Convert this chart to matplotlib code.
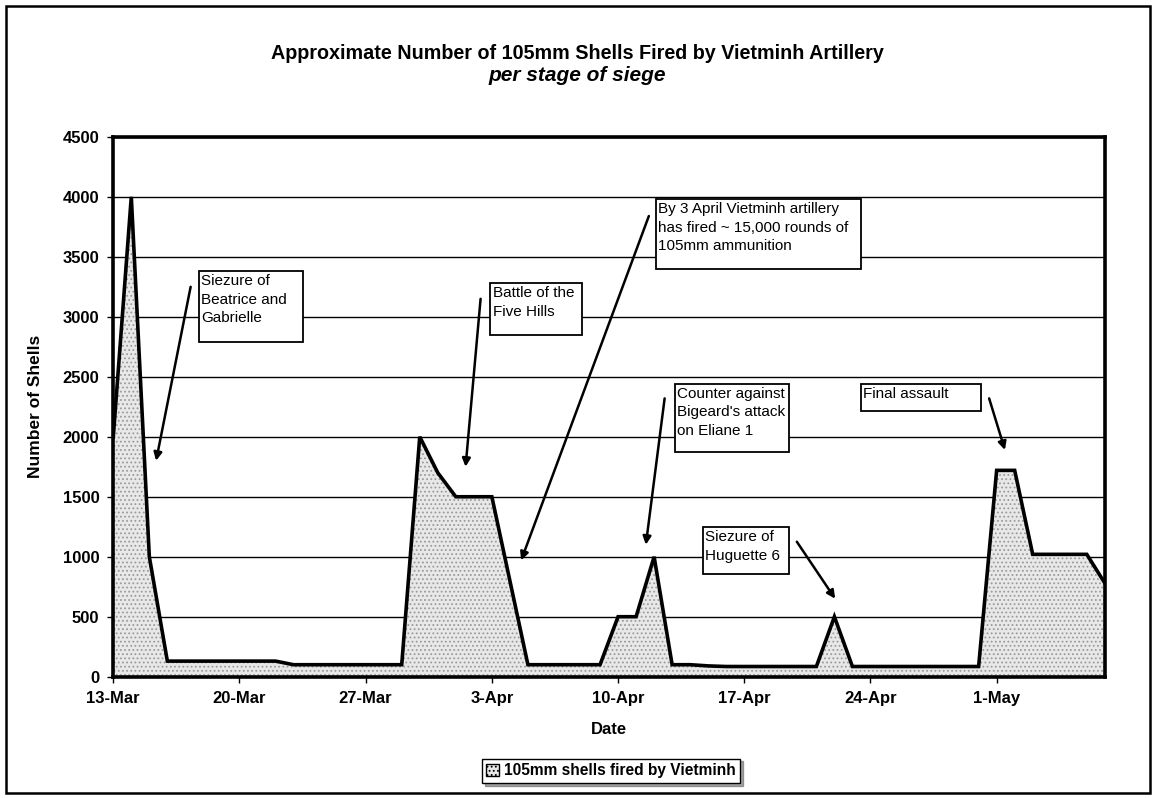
import matplotlib
matplotlib.use("Agg")
import matplotlib.pyplot as plt
import matplotlib.dates as mdates
from matplotlib.patches import Rectangle, Patch
import numpy as np

plt.rcParams["font.family"] = ["Liberation Sans", "DejaVu Sans"]
plt.rcParams["hatch.color"] = "#858585"
plt.rcParams["hatch.linewidth"] = 0.8

# daily values, 13-Mar-1954 .. 7-May-1954
start_date = "1954-03-13"
end_date = "1954-05-08"
shells = [2000, 4000, 1000, 130, 130, 130, 130, 130, 130, 130,
          100, 100, 100, 100, 100, 100, 100,
          2000, 1700, 1500, 1500, 1500, 800, 100, 100, 100, 100, 100,
          500, 500, 1000, 100, 100, 90,
          85, 85, 85, 85, 85, 85, 500, 85, 85, 85, 85, 85, 85, 85, 85,
          1720, 1720, 1020, 1020, 1020, 1020, 780]
tick_dates = ["1954-03-13", "1954-03-20", "1954-03-27", "1954-04-03",
              "1954-04-10", "1954-04-17", "1954-04-24", "1954-05-01"]
tick_labels = ["13-Mar", "20-Mar", "27-Mar", "3-Apr", "10-Apr", "17-Apr", "24-Apr", "1-May"]

# (text, box left date, box top value, box width days, box height, arrow tail, arrow head)
notes = [
    ("Siezure of\nBeatrice and\nGabrielle", "1954-03-17 18:00", 3380, 5.75, 590, ("1954-03-17 07:00", 3250), ("1954-03-15 09:00", 1800)),
    ("Battle of the\nFive Hills", "1954-04-02 22:00", 3280, 5.1, 430, ("1954-04-02 09:00", 3150), ("1954-04-01 13:00", 1750)),
    ("By 3 April Vietminh artillery\nhas fired ~ 15,000 rounds of\n105mm ammunition", "1954-04-12 02:00", 3980, 11.4, 585, ("1954-04-11 17:00", 3840), ("1954-04-04 15:00", 970)),
    ("Counter against\nBigeard's attack\non Eliane 1", "1954-04-13 04:00", 2440, 6.3, 570, ("1954-04-12 14:00", 2320), ("1954-04-11 13:00", 1100)),
    ("Siezure of\nHuguette 6", "1954-04-14 17:00", 1245, 4.8, 385, ("1954-04-19 22:00", 1125), ("1954-04-22 01:00", 650)),
    ("Final assault", "1954-04-23 11:00", 2440, 6.65, 225, ("1954-04-30 14:00", 2320), ("1954-05-01 11:00", 1890)),
]

days = np.arange(np.datetime64(start_date), np.datetime64(end_date)).astype("datetime64[D]").astype(object)
x = mdates.date2num(days)

fig = plt.figure(figsize=(11.57, 7.98), dpi=100)
ax = fig.add_axes([0.0979, 0.152, 0.857, 0.6765])

ax.fill_between(x, 0, shells, facecolor="#e8e8e8", hatch="....", edgecolor="#9a9a9a", linewidth=0, zorder=2)
ax.plot(x, shells, color="black", linewidth=2.6, zorder=3, solid_joinstyle="miter")

ax.set_xlim(x[0], x[-1])
ax.set_ylim(0, 4500)
ax.set_yticks(np.arange(0, 4501, 500))
ax.yaxis.grid(True, color="black", linewidth=1.0, zorder=0)
ax.set_axisbelow(True)
ax.set_xticks(mdates.date2num(np.array(tick_dates, dtype="datetime64[D]").astype(object)))
ax.set_xticklabels(tick_labels)
ax.tick_params(axis="both", labelsize=12, length=4, width=1, direction="out", pad=6)
for lab in ax.get_xticklabels() + ax.get_yticklabels():
    lab.set_fontweight("bold")
for sp in ax.spines.values():
    sp.set_linewidth(2.6)

ax.set_xlabel("Date", fontsize=12, fontweight="bold", labelpad=12)
ax.set_ylabel("Number of Shells", fontsize=12.5, fontweight="bold", labelpad=14)

fig.text(0.499, 0.933, "Approximate Number of 105mm Shells Fired by Vietminh Artillery",
         ha="center", va="center", fontsize=14.2, fontweight="bold")
fig.text(0.499, 0.906, "per stage of siege", ha="center", va="center",
         fontsize=15, fontweight="bold", style="italic")

for text, bx, by, bw, bh, tail, head in notes:
    x0 = mdates.datestr2num(bx)
    ax.add_patch(Rectangle((x0, by - bh), bw, bh, facecolor="white", edgecolor="black",
                           linewidth=1.3, zorder=4))
    ax.text(x0 + 0.12, by - 25, text, ha="left", va="top", fontsize=11, linespacing=1.4, zorder=5)
    ax.annotate("", xy=(mdates.datestr2num(head[0]), head[1]),
                xytext=(mdates.datestr2num(tail[0]), tail[1]),
                arrowprops=dict(arrowstyle="-|>", color="black", lw=1.8, mutation_scale=12,
                                shrinkA=0, shrinkB=0), zorder=5)

handle = Patch(facecolor="#e8e8e8", hatch="....", edgecolor="black", linewidth=1)
leg = fig.legend([handle], ["105mm shells fired by Vietminh"], loc="center",
                 bbox_to_anchor=(0.528, 0.034), frameon=True, fancybox=False, shadow=True,
                 handlelength=0.8, handleheight=0.8, handletextpad=0.3, borderpad=0.3,
                 prop={"weight": "bold", "size": 11.2})
leg.get_frame().set_edgecolor("black")
leg.get_frame().set_linewidth(1.0)

fig.patches.append(Rectangle((0.005, 0.006), 0.989, 0.986, transform=fig.transFigure,
                             fill=False, edgecolor="black", linewidth=1.8))

fig.savefig("out.png", dpi=100)
